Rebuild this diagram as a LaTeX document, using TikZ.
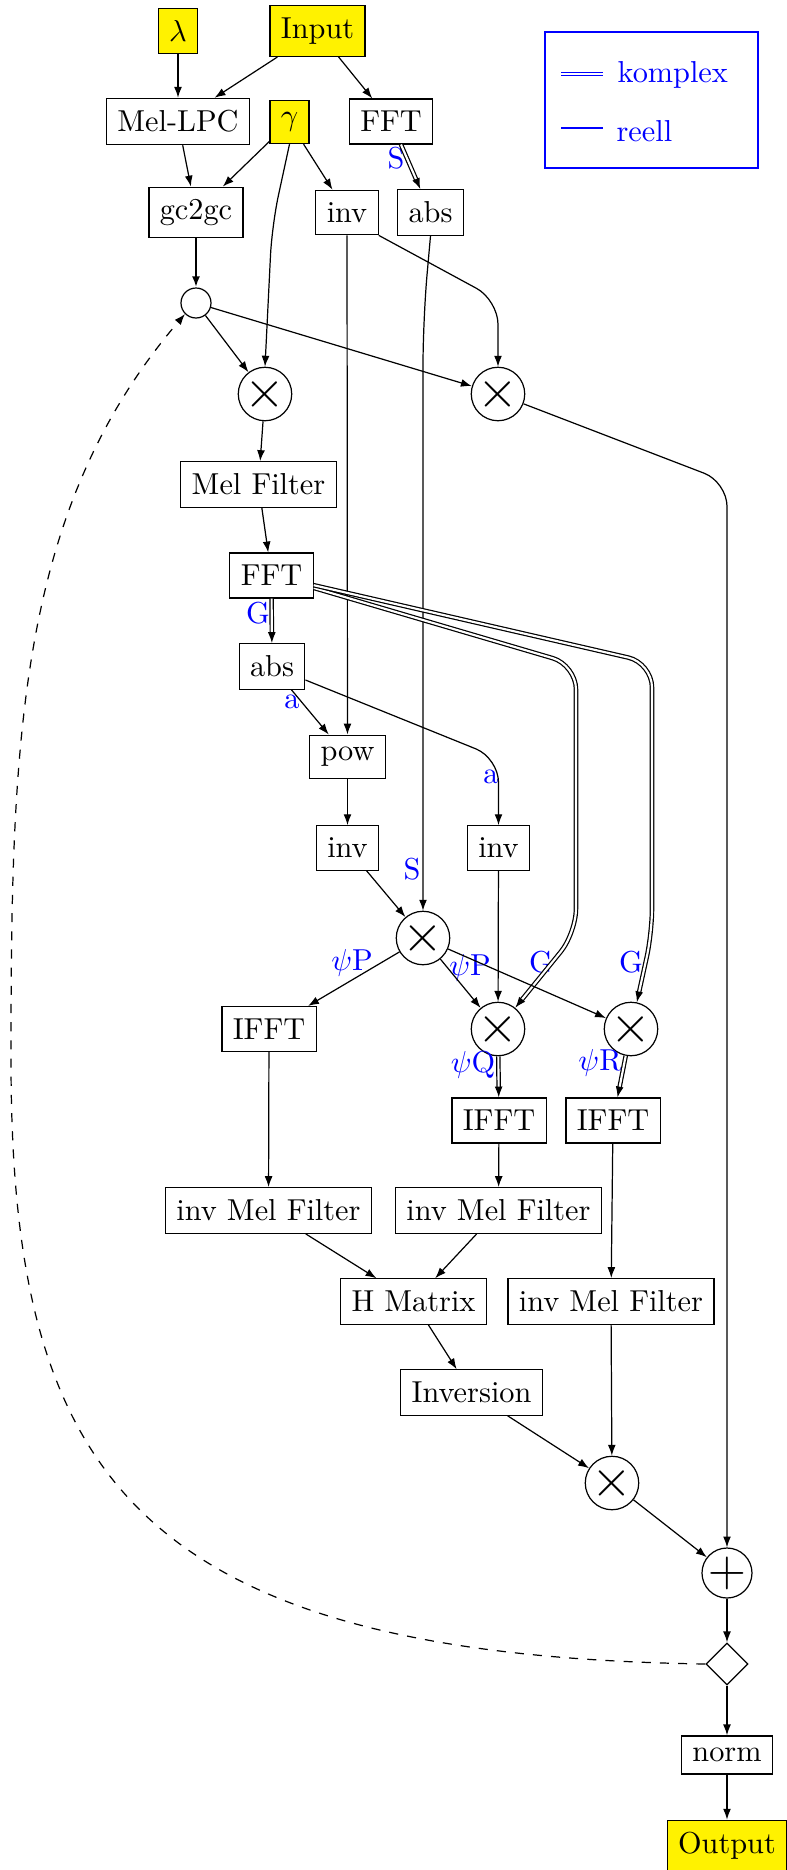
\documentclass[tikz,border=0pt]{standalone}
\usepackage{xcolor}
\usepackage{tikz}
\usetikzlibrary{positioning, shapes.geometric, arrows.meta, calc}

\begin{document}
\begin{tikzpicture}[
  x=0.33pt, y=-0.33pt,
  box/.style={draw, rectangle, inner xsep=3.6pt, inner ysep=4pt},
  inbox/.style={box, fill=yellow},
  op/.style={draw, circle, inner sep=0pt, minimum size=13.9pt, font=\LARGE},
  lbl/.style={text=blue, inner sep=0pt},
  arr/.style={-{Latex[length=3.6pt, width=2.6pt]}},
  cplx/.style={arr, double, double distance=0.7pt}
]
  \useasboundingbox (0,0) rectangle (787,1870);

  \node[inbox] (lam) at (178,31) {$\lambda$};
  \node[inbox] (input) at (317.5,31) {Input};
  \node[box] (mellpc) at (178,121.5) {Mel-LPC};
  \node[inbox] (gam) at (289.5,122) {$\gamma$};
  \node[box] (fftA) at (391,121.5) {FFT};
  \node[box] (gc) at (196,212.5) {gc2gc};
  \node[box] (invA) at (347,212.5) {inv};
  \node[box] (absA) at (430.5,212.5) {abs};

  \node[draw, circle, inner sep=0pt, minimum size=9.9pt] (mix) at (196,303) {};
  \node[op] (mulA) at (265,394) {$\times$};
  \node[op] (mulB) at (498,394) {$\times$};

  \node[box] (melf) at (258.5,484.5) {Mel Filter};
  \node[box] (fftB) at (271.5,575.5) {FFT};
  \node[box] (absB) at (272,666.5) {abs};
  \node[box] (pow) at (347.5,757) {pow};
  \node[box] (invB) at (347.5,848) {inv};
  \node[box] (invC) at (498.5,848) {inv};

  \node[op] (mulP) at (423,938) {$\times$};
  \node[box] (ifftP) at (269,1029) {IFFT};
  \node[op] (mulQ) at (498,1029) {$\times$};
  \node[op] (mulR) at (631,1029) {$\times$};
  \node[box] (ifftQ) at (499,1120.5) {IFFT};
  \node[box] (ifftR) at (613,1120.5) {IFFT};

  \node[box] (imelP) at (268.5,1210.5) {inv Mel Filter};
  \node[box] (imelQ) at (498.5,1210.5) {inv Mel Filter};
  \node[box] (hmat) at (413.5,1301.5) {H Matrix};
  \node[box] (imelR) at (611,1301.5) {inv Mel Filter};
  \node[box] (inver) at (471.5,1392.5) {Inversion};
  \node[op] (mulO) at (612,1483) {$\times$};
  \node[op, minimum size=15.2pt] (add) at (727,1573) {$+$};
  \node[draw, diamond, inner sep=0pt, minimum width=13.9pt, minimum height=13.9pt] (dec) at (727,1664) {};
  \node[box] (norm) at (727,1755) {norm};
  \node[inbox] (output) at (727,1846) {Output};

  \node[draw=blue, line width=0.9pt, minimum width=70.3pt, minimum height=44.9pt] (legend) at (651.5,100) {};
  \draw[blue, double, double distance=0.7pt] (561,74) -- (603,74);
  \draw[blue] (561,128) -- (603,128);
  \node[lbl, anchor=base west] (lkom) at (617,82) {komplex};
  \node[lbl, anchor=base west] (lree) at (616,141) {reell};

  \node[lbl] (lS) at (396,158) {S};
  \node[lbl] (lGa) at (258,613) {G};
  \node[lbl] (la) at (292,702) {a};
  \node[lbl] (lb) at (491,777) {a};
  \node[lbl] (lSb) at (412,869) {S};
  \node[lbl] (lPa) at (352,963) {$\psi$P};
  \node[lbl] (lPb) at (470,968) {$\psi$P};
  \node[lbl] (lGb) at (541,962) {G};
  \node[lbl] (lGc) at (631,962) {G};
  \node[lbl] (lQ) at (473,1065) {$\psi$Q};
  \node[lbl] (lR) at (600,1063) {$\psi$R};

  \coordinate (kG) at (272,225);
  \coordinate (kB) at (0,300);
  \coordinate (kS) at (0,320);
  \coordinate (kD) at (0,482);
  \coordinate (kA) at (0,758);
  \coordinate (kQa) at (576,665);
  \coordinate (kQb) at (576,933);
  \coordinate (kRa) at (652,663);
  \coordinate (kRb) at (652,933);
  \coordinate (kL) at (11,1060);

  \draw[arr] (lam) -- (mellpc);
  \draw[arr] (input) -- (mellpc);
  \draw[arr] (input) -- (fftA);
  \draw[arr] (mellpc) -- (gc);
  \draw[arr] (gam) -- (gc);
  \draw[arr] (gam) -- (invA);
  \draw[arr, rounded corners=10pt] (gam.south) -- (kG) -- (mulA.north);
  \draw[cplx] (fftA) -- (absA);
  \draw[arr, thick] (gc) -- (mix);
  \draw[arr] (mix) -- (mulA);
  \draw[arr] (mix) -- (mulB);
  \draw[arr, rounded corners=8pt] (invA.south east) -- (mulB.north |- kB) -- (mulB.north);
  \draw[arr] (invA) -- (pow);
  \draw[arr, rounded corners=15pt] (absA.south) -- (mulP.north |- kS) -- (mulP.north);
  \draw[arr] (mulA) -- (melf);
  \draw[arr, rounded corners=8pt] (mulB) -- (add.north |- kD) -- (add.north);

  \draw[arr] (melf) -- (fftB);
  \draw[cplx] (fftB) -- (absB);
  \draw[cplx, rounded corners=8pt] (fftB) -- (kQa) -- (kQb) -- (mulQ);
  \draw[cplx, rounded corners=8pt] (fftB) -- (kRa) -- (kRb) -- (mulR);
  \draw[arr] (absB) -- (pow);
  \draw[arr, rounded corners=8pt] (absB) -- (invC.north |- kA) -- (invC.north);
  \draw[arr] (pow) -- (invB);
  \draw[arr] (invB) -- (mulP);
  \draw[arr] (invC) -- (mulQ);

  \draw[arr] (mulP) -- (ifftP);
  \draw[arr] (mulP) -- (mulQ);
  \draw[arr] (mulP) -- (mulR);
  \draw[cplx] (mulQ) -- (ifftQ);
  \draw[cplx] (mulR) -- (ifftR);
  \draw[arr] (ifftP) -- (imelP);
  \draw[arr] (ifftQ) -- (imelQ);
  \draw[arr] (ifftR) -- (imelR);
  \draw[arr] (imelP) -- (hmat);
  \draw[arr] (imelQ) -- (hmat);
  \draw[arr] (hmat) -- (inver);
  \draw[arr] (inver) -- (mulO);
  \draw[arr] (imelR) -- (mulO);
  \draw[arr] (mulO) -- (add);
  \draw[arr] (add) -- (dec);
  \draw[arr] (dec) -- (norm);
  \draw[arr] (norm) -- (output);
  \draw[arr, dashed] (dec.west) .. controls (130,1655) and (11,1470) .. (kL)
    .. controls (11,740) and (17.5,510) .. (mix.south west);
\end{tikzpicture}
\end{document}
